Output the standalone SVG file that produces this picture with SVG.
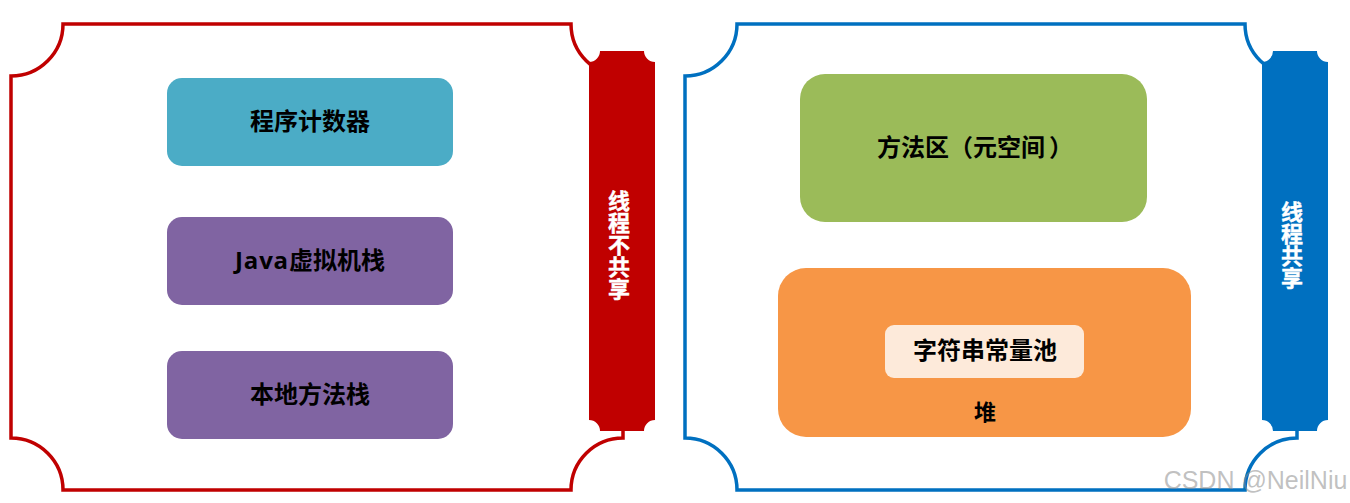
<svg xmlns="http://www.w3.org/2000/svg" width="1350" height="503" viewBox="0 0 1350 503">
<style>
.f{fill:none;stroke-width:3.5}
.r{stroke:#c00000}
.b{stroke:#0070c0}
text{font-family:"Open Sans","Noto Sans CJK SC","Noto Sans",sans-serif;font-weight:700;fill:#000;text-anchor:middle}
.l{font-size:24px}
.v{font-size:22px;fill:#fff;writing-mode:vertical-rl;text-orientation:upright;stroke:#fff;stroke-width:.4}
</style>
<rect width="1350" height="503" fill="#fff"/>
<g id="connectors"></g>
<g id="frame-left"><path class="f r" d="M63 24H571A52 52 0 0 0 623 76V438A52 52 0 0 0 571 490H63A52 52 0 0 0 11 438V76A52 52 0 0 0 63 24Z"/></g>
<g id="frame-right"><path class="f b" d="M737 24H1245A52 52 0 0 0 1297 76V438A52 52 0 0 0 1245 490H737A52 52 0 0 0 685 438V76A52 52 0 0 0 737 24Z"/></g>
<g id="banner-left"><path fill="#c00000" d="M600 51H644A11 11 0 0 0 655 62V420A11 11 0 0 0 644 431H600A11 11 0 0 0 589 420V62A11 11 0 0 0 600 51Z"/><text class="v" x="618" y="245">线程不共享</text></g>
<g id="banner-right"><path fill="#0070c0" d="M1273 51H1317A11 11 0 0 0 1328 62V420A11 11 0 0 0 1317 431H1273A11 11 0 0 0 1262 420V62A11 11 0 0 0 1273 51Z"/><text class="v" x="1291" y="245">线程共享</text></g>
<g id="node-pc"><rect x="167" y="78" width="286" height="88" rx="15" fill="#4bacc6"/><text class="l" x="310" y="130">程序计数器</text></g>
<g id="node-jvm"><rect x="167" y="217" width="286" height="88" rx="15" fill="#8064a2"/><text class="l" x="310" y="269"><tspan letter-spacing=".8">Java</tspan>虚拟机栈</text></g>
<g id="node-native"><rect x="167" y="351" width="286" height="88" rx="15" fill="#8064a2"/><text class="l" x="310" y="403">本地方法栈</text></g>
<g id="node-method"><rect x="800" y="74" width="347" height="148" rx="25" fill="#9bbb59"/><text class="l" x="975" y="156">方法区（元空间<tspan dx="4">）</tspan></text></g>
<g id="node-heap"><rect x="778" y="268" width="413" height="169" rx="28" fill="#f79646"/><text x="985" y="420" font-size="22">堆</text></g>
<g id="node-pool"><rect x="885" y="325" width="199" height="53" rx="9" fill="#fdeada"/><text class="l" x="985" y="359">字符串常量池</text></g>
<text x="1255.5" y="489" font-size="25" style="font-family:'Liberation Sans',sans-serif;font-weight:400;fill:#8c8c8c;fill-opacity:.55">CSDN @NeilNiu</text>
</svg>
